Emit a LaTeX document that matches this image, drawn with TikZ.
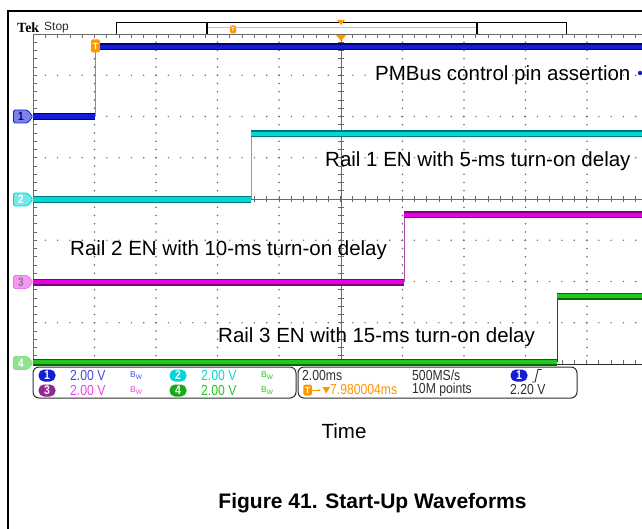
\documentclass[tikz,border=0pt]{standalone}
\usepackage{fontspec}
\setmainfont{Liberation Sans}
\newfontfamily\tekfont[FakeStretch=0.84]{Liberation Sans}
\newfontfamily\tekserif{Liberation Serif}
\usetikzlibrary{arrows.meta}

\definecolor{chone}{RGB}{20,30,215}
\definecolor{chonedark}{RGB}{0,0,120}
\definecolor{chtwo}{RGB}{0,215,215}
\definecolor{chtwodark}{RGB}{0,120,120}
\definecolor{chthree}{RGB}{230,0,230}
\definecolor{chthreedark}{RGB}{130,0,130}
\definecolor{chfour}{RGB}{30,200,30}
\definecolor{chfourdark}{RGB}{0,105,0}
\definecolor{tekorange}{RGB}{255,150,0}
\definecolor{gridgray}{RGB}{105,105,105}
\definecolor{statgray}{RGB}{45,45,45}

\tikzset{
  trace/.style={line width=1.4pt, double distance=4.2pt},
  edge/.style={line width=0.9pt},
  gridline/.style={draw=gridgray, line width=0.8pt},
  lbl/.style={font=\fontsize{20.5}{24}\selectfont, inner sep=0pt},
  stat/.style={font=\tekfont\fontsize{14.5}{14.5}\selectfont, text=statgray, inner sep=0pt, anchor=west},
  badge/.style={rounded corners=5.5pt, minimum width=17pt, minimum height=12pt, inner sep=0pt, text=white, font=\tekfont\bfseries\fontsize{12.5}{12.5}\selectfont},
  statbox/.style={draw=statgray, line width=1pt, rounded corners=6pt},
  tmark/.style={fill=tekorange, rounded corners=1.5pt, inner sep=0pt, text=white, font=\bfseries\fontsize{9}{9}\selectfont},
  tagnum/.style={inner sep=0pt, font=\tekfont\bfseries\fontsize{12}{12}\selectfont}
}
\newcommand{\bwmark}{{\fontsize{8.5}{8.5}\selectfont B\raisebox{-2.5pt}{\fontsize{6.5}{6.5}\selectfont W}}}

\begin{document}
\begin{tikzpicture}[x=1pt,y=-1pt]
\useasboundingbox (0,0) rectangle (642,529);
\clip (0,0) rectangle (642,529);

% outer frame
\path[draw,line width=1.4pt] (8,529) -- (8,11) -- (645,11);

% Tek header and record bar
\node[anchor=west, inner sep=0pt, font=\tekserif\bfseries\fontsize{14}{14}\selectfont] (tek) at (17,27.5) {Tek};
\node[anchor=west, inner sep=0pt, font=\fontsize{12}{12}\selectfont, text=statgray] (stop) at (44,27.5) {Stop};
\path[draw,line width=0.9pt] (116,22) rectangle (566,34);
\path[draw=chfour!50,line width=1.4pt] (207,27.5) -- (477,27.5);
\path[draw,line width=1.4pt] (207,22) -- (207,34);
\path[draw,line width=1.4pt] (477,22) -- (477,34);
\node[tmark, minimum width=6pt, minimum height=8pt, font=\bfseries\fontsize{6}{6}\selectfont] (recT) at (233,29.5) {T};
\path[fill=tekorange] (337,20) -- (345,20) -- (341,25) -- cycle;

% graticule: dotted grid
\foreach \gy in {75.25,116.5,157.75,240.25,281.5,322.75}
  \foreach \k in {1,...,50}
    \fill[gridgray] ({33+12.3*\k},\gy) circle (0.8);
\foreach \gx in {94.5,156,217.5,279,402.5,464,525.5,587}
  \foreach \k in {1,...,39}
    \fill[gridgray] (\gx,{34+8.25*\k}) circle (0.8);

% graticule: edges and crosshair with ticks
\path[gridline] (33,34) -- (650,34);
\path[draw=statgray,line width=0.8pt] (33,364) -- (650,364);
\path[gridline] (33,34) -- (33,364);
\path[gridline] (341,34) -- (341,364);
\path[gridline] (33,199) -- (650,199);
\foreach \k in {1,...,50} {
  \path[gridline] ({33+12.3*\k},34) -- ({33+12.3*\k},38);
  \path[gridline] ({33+12.3*\k},360) -- ({33+12.3*\k},364);
  \path[gridline] ({33+12.3*\k},196) -- ({33+12.3*\k},202);
}
\foreach \k in {1,...,39} {
  \path[gridline] (33,{34+8.25*\k}) -- (37,{34+8.25*\k});
  \path[gridline] (338,{34+8.25*\k}) -- (344,{34+8.25*\k});
}

% channel 1
\path[draw=chonedark,double=chone,trace] (33,116.5) -- (95,116.5);
\path[draw=chone!55,edge] (95,116.5) -- (95,47);
\path[draw=chonedark,double=chone,trace] (95,47) -- (650,47);
% channel 2
\path[draw=chtwodark,double=chtwo,trace] (33,199.5) -- (251,199.5);
\path[draw=chtwodark!60,edge] (251,199.5) -- (251,134);
\path[draw=chtwodark,double=chtwo,trace] (251,134) -- (650,134);
% channel 3
\path[draw=chthreedark,double=chthree,trace] (33,282) -- (404,282);
\path[draw=chthreedark!70,edge] (404,282) -- (404,215);
\path[draw=chthreedark,double=chthree,trace] (404,215) -- (650,215);
% channel 4
\path[draw=chfourdark,double=chfour,trace] (33,362) -- (557,362);
\path[draw=chfourdark,edge] (557,362) -- (557,296);
\path[draw=chfourdark,double=chfour,trace] (557,296) -- (650,296);

% trigger markers
\node[tmark, minimum width=9pt, minimum height=13pt] (trig) at (95.5,46) {T};
\path[fill=tekorange] (336,35) -- (346,35) -- (341,41) -- cycle;

% channel tags on the left
\foreach \n/\ty/\tc/\tf/\tt in {1/116.5/chone/chone!55/chonedark,2/199.5/chtwo/chtwo!55/white,3/282/chthree!55/chthree!40/gray,4/363/chfour!55/chfour!50/white} {
  \path[draw=\tc,fill=\tf,line width=0.8pt,rounded corners=1.5pt] (13.5,{\ty-6.5}) -- (27.5,{\ty-6.5}) -- (33,\ty) -- (27.5,{\ty+6.5}) -- (13.5,{\ty+6.5}) -- cycle;
  \node[tagnum,text=\tt] (tag\n) at (21,\ty) {\n};
}

% labels
\node[lbl,anchor=west] (pmbus) at (375,75) {PMBus control pin assertion};
\fill[chone] (640,73) circle (2.2);
\node[lbl,anchor=west] (rail1) at (325,161) {Rail 1 EN with 5-ms turn-on delay};
\node[lbl,anchor=west] (rail2) at (70,250) {Rail 2 EN with 10-ms turn-on delay};
\node[lbl,anchor=west] (rail3) at (218,337) {Rail 3 EN with 15-ms turn-on delay};

% status boxes
\path[statbox] (33,367) rectangle (296,398);
\path[statbox] (298,367) rectangle (577,398);

\node[badge,fill=chone] (b1) at (47,375.5) {1};
\node[stat,text=chone!80] (v1) at (70,375.5) {2.00 V};
\node[inner sep=0pt,text=chone!80] (bw1) at (136,375.5) {\bwmark};
\node[badge,fill=chtwo] (b2) at (178,375.5) {2};
\node[stat,text=chtwo] (v2) at (201,375.5) {2.00 V};
\node[inner sep=0pt,text=chfour] (bw2) at (267,375.5) {\bwmark};
\node[badge,fill=chthreedark!85] (b3) at (47,390.5) {3};
\node[stat,text=chthree!75] (v3) at (70,390.5) {2.00 V};
\node[inner sep=0pt,text=chthree!75] (bw3) at (136,390.5) {\bwmark};
\node[badge,fill=chfour!85!black] (b4) at (178,390.5) {4};
\node[stat,text=chfour] (v4) at (201,390.5) {2.00 V};
\node[inner sep=0pt,text=chfour] (bw4) at (267,390.5) {\bwmark};

\node[stat] (tdiv) at (302,375.5) {2.00ms};
\node[stat] (rate) at (412,375.5) {500MS/s};
\node[badge,fill=chone] (tb1) at (519,375.5) {1};
\path[draw=statgray,line width=0.9pt] (532,382) -- (535,382) -- (538,369.5) -- (541.5,369.5);
\node[tmark, minimum width=8.5pt, minimum height=11pt] (tpos) at (307.5,390) {T};
\path[draw=tekorange,line width=1pt,-{Stealth[length=3pt]}] (tpos.east) -- (321,390);
\path[fill=tekorange] (322.5,387) -- (330,387) -- (326.2,393.5) -- cycle;
\node[stat,text=tekorange] (tdelay) at (330,390) {7.980004ms};
\node[stat] (points) at (412,390) {10M points};
\node[stat] (level) at (510,390) {2.20 V};

% captions
\node[lbl] (time) at (344,431) {Time};
\node[lbl,font=\bfseries\fontsize{21}{24}\selectfont] (caption) at (372.5,503) {Figure 41. Start-Up Waveforms};
\end{tikzpicture}
\end{document}
